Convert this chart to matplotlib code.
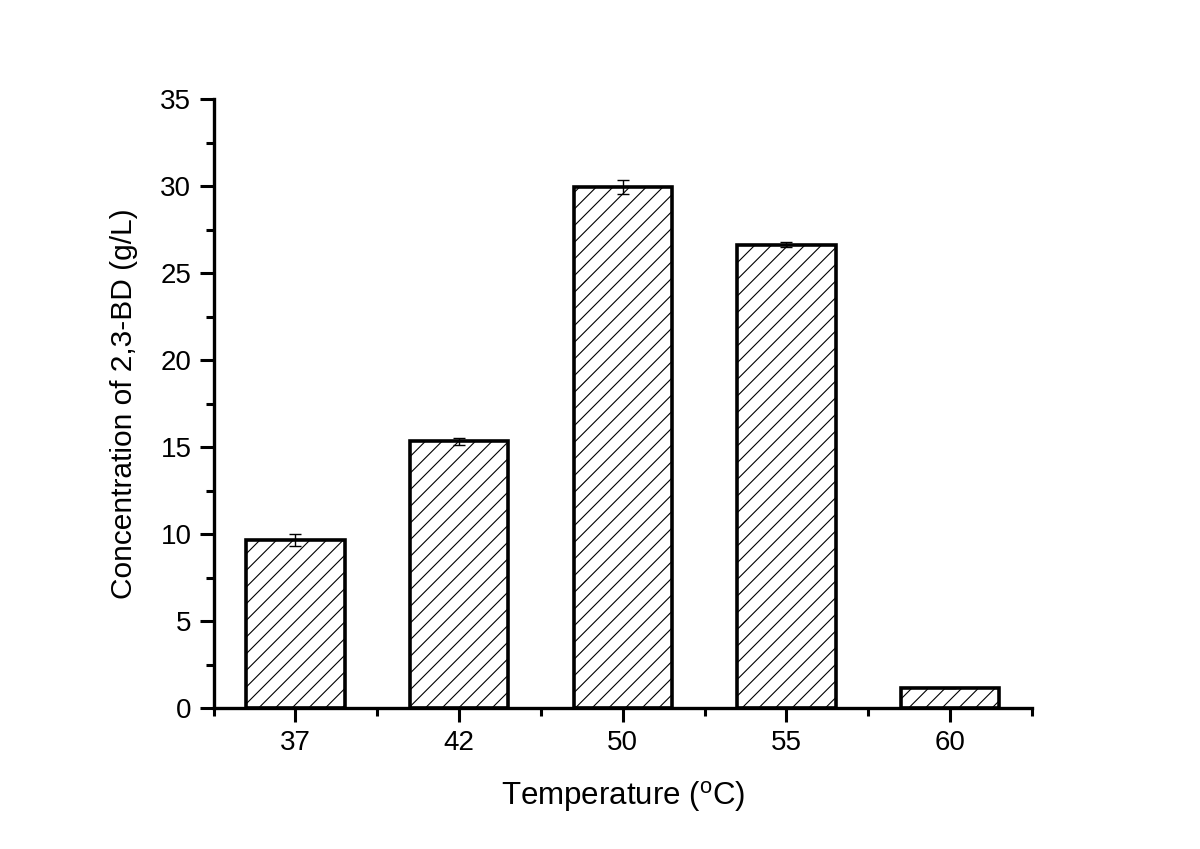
import matplotlib

matplotlib.use("Agg")
import matplotlib.pyplot as plt
import numpy as np

# ── Data ────────────────────────────────────────────────────────────────────
temperatures = ["37", "42", "50", "55", "60"]
concentration = [9.68, 15.33, 29.95, 26.65, 1.17]
errors = [0.34, 0.22, 0.40, 0.15, 0.0]

plt.rcParams["font.family"] = ["Liberation Sans", "DejaVu Sans"]
plt.rcParams["hatch.linewidth"] = 0.8
plt.rcParams["hatch.color"] = "#333333"

fig = plt.figure(figsize=(12, 8.49), dpi=100)
ax = fig.add_axes([0.178, 0.166, 0.682, 0.717])

x = np.arange(len(temperatures))
ax.bar(x, concentration, width=0.6, color="white", edgecolor="black",
       linewidth=2.6, hatch="//", zorder=2)
ax.errorbar(x, concentration, yerr=errors, fmt="none", ecolor="black",
            elinewidth=1.0, capsize=4.5, capthick=1.0, zorder=3)

ax.set_xlim(-0.5, len(temperatures) - 0.5)
ax.set_ylim(0, 35)
ax.set_xticks(x)
ax.set_xticklabels(temperatures)
ax.set_xticks(np.arange(-0.5, len(temperatures), 1.0), minor=True)
ax.set_yticks(np.arange(0, 36, 5))
ax.set_yticks(np.arange(2.5, 35, 5), minor=True)

for side in ("top", "right"):
    ax.spines[side].set_visible(False)
for side in ("left", "bottom"):
    ax.spines[side].set_linewidth(2.4)

ax.tick_params(which="major", direction="out", length=10, width=2.2,
               labelsize=20, pad=6)
ax.tick_params(which="minor", direction="out", length=6, width=2.2)

ax.set_xlabel(r"Temperature ($\mathregular{^{o}}$C)", fontsize=22.5, labelpad=16)
ax.set_ylabel("Concentration of 2,3-BD (g/L)", fontsize=21.5, labelpad=16)

fig.savefig("out.png", dpi=100)
plt.close(fig)
